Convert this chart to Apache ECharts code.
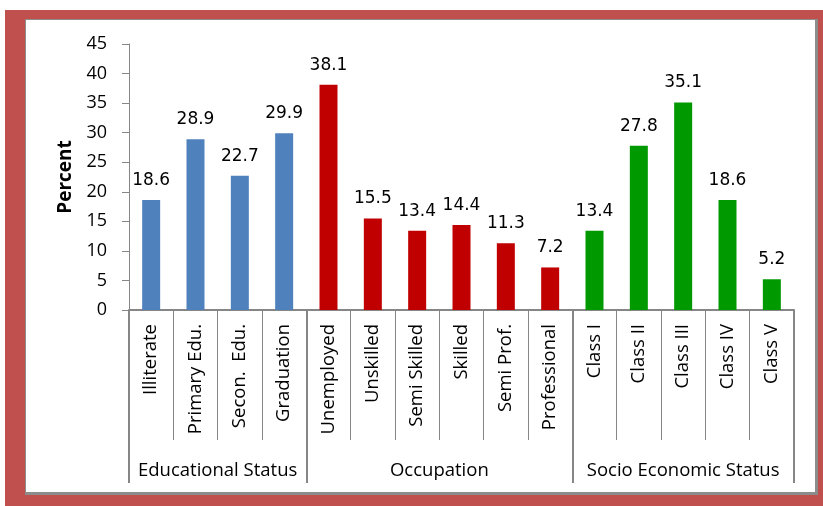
<!DOCTYPE html>
<html>
<head>
<meta charset="utf-8">
<script src="https://cdn.jsdelivr.net/npm/echarts@6/dist/echarts.min.js"></script>
<style>
  html, body { margin: 0; padding: 0; background: #ffffff; }
  #frame { position: absolute; left: 5px; top: 10px; width: 818px; height: 496px; background: #C0504D; }
  #panel { position: absolute; left: 20px; top: 9px; width: 789px; height: 472px; background: #ffffff;
           border-top: 1px solid #8c8c8c; border-left: 1px solid #8c8c8c;
           border-right: 3px solid #8c8c8c; border-bottom: 3px solid #8c8c8c; }
  #chart { position: absolute; left: 0; top: 0; width: 823px; height: 506px; }
</style>
</head>
<body>
<div id="frame"><div id="panel"></div></div>
<div id="chart"></div>
<script>
// ---- data ----
const categories = ['Illiterate', 'Primary Edu.', 'Secon.  Edu.', 'Graduation',
  'Unemployed', 'Unskilled', 'Semi Skilled', 'Skilled', 'Semi Prof.', 'Professional',
  'Class I', 'Class II', 'Class III', 'Class IV', 'Class V'];
const values = [18.6, 28.9, 22.7, 29.9, 38.1, 15.5, 13.4, 14.4, 11.3, 7.2, 13.4, 27.8, 35.1, 18.6, 5.2];
const groupNames = ['Educational Status', 'Occupation', 'Socio Economic Status'];
const groupSizes = [4, 6, 5];
const groupColors = ['#4F81BD', '#C00000', '#009900'];
const yTicks = [0, 5, 10, 15, 20, 25, 30, 35, 40, 45];

// derived
const groupOfIndex = [];
const groupStarts = [];
let acc = 0;
groupSizes.forEach((n, g) => { groupStarts.push(acc); for (let i = 0; i < n; i++) groupOfIndex.push(g); acc += n; });
const groupCenters = {};
acc = 0;
groupSizes.forEach((n, g) => { groupCenters[(acc + n / 2).toFixed(1)] = groupNames[g]; acc += n; });

const barData = values.map((v, i) => ({ value: v, itemStyle: { color: groupColors[groupOfIndex[i]] } }));

const axisGray = '#868686';
const chart = echarts.init(document.getElementById('chart'), null, { renderer: 'canvas' });
chart.setOption({
  backgroundColor: 'transparent',
  animation: false,
  grid: { left: 129, right: 29, top: 44, bottom: 196, containLabel: false },
  xAxis: [
    {
      type: 'category', data: categories, position: 'bottom',
      axisLine: { show: true, lineStyle: { color: axisGray, width: 2 } },
      axisTick: { show: true, interval: 0, length: 130, lineStyle: { color: axisGray, width: 1 } },
      axisLabel: { interval: 0, rotate: 90, margin: 14, color: '#000', fontFamily: 'Open Sans', fontSize: 18.5 }
    },
    {
      type: 'category', data: categories, position: 'bottom',
      axisLine: { show: false },
      axisTick: { show: true, length: 173, lineStyle: { color: axisGray, width: 2 },
                  interval: (idx) => groupStarts.indexOf(idx) >= 0 },
      axisLabel: { show: false }
    },
    {
      type: 'value', min: 0, max: categories.length, interval: 0.5, position: 'bottom',
      axisLine: { show: false }, axisTick: { show: false }, splitLine: { show: false },
      axisLabel: { show: true, margin: 151, color: '#000', fontFamily: 'Open Sans', fontSize: 18.5,
                   showMinLabel: true, showMaxLabel: true,
                   formatter: (v) => groupCenters[v.toFixed(1)] || '' }
    }
  ],
  yAxis: {
    type: 'value', min: yTicks[0], max: yTicks[yTicks.length - 1], interval: yTicks[1] - yTicks[0],
    name: 'Percent', nameLocation: 'middle', nameGap: 51, nameRotate: 90,
    nameTextStyle: { fontFamily: 'Open Sans', fontWeight: 'bold', fontSize: 19, color: '#000' },
    axisLine: { show: true, lineStyle: { color: axisGray, width: 1 } },
    axisTick: { show: true, length: 7, lineStyle: { color: axisGray } },
    splitLine: { show: false },
    axisLabel: { margin: 22, color: '#000', fontFamily: 'Open Sans', fontSize: 18 }
  },
  series: [{
    type: 'bar', xAxisIndex: 0, data: barData, barWidth: 18,
    label: { show: true, position: 'top', distance: 11, color: '#000',
             fontFamily: 'DejaVu Sans', fontSize: 17, formatter: (p) => p.value.toFixed(1) }
  }]
});
</script>
</body>
</html>
